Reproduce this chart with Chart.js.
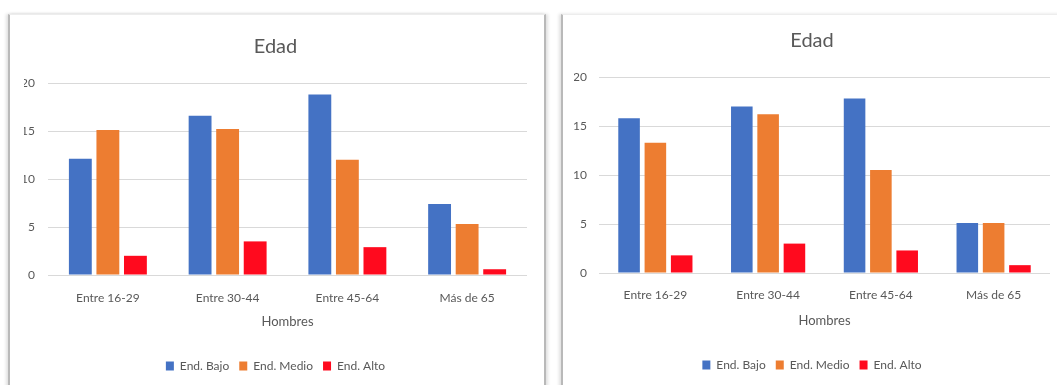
<!DOCTYPE html>
<html lang="es">
<head>
<meta charset="utf-8">
<title>Edad</title>
<script src="https://cdn.jsdelivr.net/npm/chart.js@4/dist/chart.umd.min.js"></script>
<style>
  html, body { margin: 0; padding: 0; background: #fff; }
  body { width: 1057px; height: 385px; position: relative; overflow: hidden; }
  .tarjeta {
    position: absolute; top: 14px; height: 380px; background: #fff;
    border-top: 1px solid #ededed;
    border-left: 2px solid #b9b9b9;
    box-shadow: -2px 0 3px rgba(0,0,0,0.12);
  }
  #tarjeta1 { left: 8px; width: 534px; border-right: 2px solid #b9b9b9; box-shadow: -2px 0 3px rgba(0,0,0,0.12), 2px 0 3px rgba(0,0,0,0.12); }
  #tarjeta2 { left: 561px; width: 500px; }
  canvas { position: absolute; top: 14px; }
  #grafico1 { left: 24px; }
  #grafico2 { left: 574px; }
</style>
</head>
<body>
<div class="tarjeta" id="tarjeta1"></div>
<div class="tarjeta" id="tarjeta2"></div>
<canvas id="grafico1" width="506" height="371"></canvas>
<canvas id="grafico2" width="483" height="371"></canvas>

<script>
// Datos
const categorias = ['Entre 16-29', 'Entre 30-44', 'Entre 45-64', 'Más de 65'];
const series = ['End. Bajo', 'End. Medio', 'End. Alto'];
const ticksY = [0, 5, 10, 15, 20];

// primer gráfico
const bajo1 = [12.1, 16.6, 18.8, 7.4];
const medio1 = [15.1, 15.2, 12.0, 5.3];
const alto1 = [2.0, 3.5, 2.9, 0.6];

// segundo gráfico
const bajo2 = [15.8, 17.0, 17.8, 5.1];
const medio2 = [13.3, 16.2, 10.5, 5.1];
const alto2 = [1.8, 3.0, 2.3, 0.8];

const colores = ['#4472c4', '#ed7d31', '#ff0a1e'];
const gris = '#595959';
const fuente = 'Lato, "Open Sans", sans-serif';

function crearGrafico(id, valores, caja) {
  new Chart(document.getElementById(id), {
    type: 'bar',
    data: {
      labels: categorias,
      datasets: valores.map((v, i) => ({
        label: series[i],
        data: v,
        backgroundColor: colores[i],
        borderWidth: 0,
        categoryPercentage: caja.cat,
        barPercentage: caja.bar
      }))
    },
    options: {
      responsive: false,
      animation: false,
      devicePixelRatio: 1,
      layout: { padding: { left: 0, right: caja.pr, top: 0, bottom: caja.pb } },
      plugins: {
        title: {
          display: true,
          text: 'Edad',
          color: gris,
          font: { family: fuente, size: 20, weight: 'normal' },
          padding: { top: caja.tt, bottom: caja.tb }
        },
        legend: {
          position: 'bottom',
          labels: {
            color: gris,
            boxWidth: 8,
            boxHeight: 9,
            padding: 10,
            font: { family: fuente, size: 12 }
          }
        },
        tooltip: { enabled: false }
      },
      scales: {
        x: {
          grid: { display: false },
          border: { display: false },
          ticks: { color: gris, padding: caja.xp, font: { family: fuente, size: 12 } },
          title: {
            display: true,
            text: 'Hombres',
            color: gris,
            font: { family: fuente, size: 13 },
            padding: { top: 0, bottom: caja.hb }
          },
          afterFit: (s) => { s.height = caja.xh; }
        },
        y: {
          min: 0,
          max: 20,
          afterBuildTicks: (s) => { s.ticks = ticksY.map(v => ({ value: v })); },
          grid: { color: '#d9d9d9', drawTicks: false },
          border: { display: false },
          ticks: { color: gris, padding: caja.yp, font: { family: fuente, size: 12 } },
          afterFit: (s) => { s.width = caja.yw; }
        }
      }
    }
  });
}

crearGrafico('grafico1', [bajo1, medio1, alto1], {
  cat: 0.69, bar: 0.83, pr: 3, pb: 3, tt: 21, tb: 24,
  xp: 8, hb: 20, xh: 75, yp: 13, yw: 24
});

crearGrafico('grafico2', [bajo2, medio2, alto2], {
  cat: 0.70, bar: 0.82, pr: 7, pb: 4, tt: 15, tb: 24,
  xp: 7, hb: 20, xh: 76, yp: 12, yw: 25
});
</script>
</body>
</html>
